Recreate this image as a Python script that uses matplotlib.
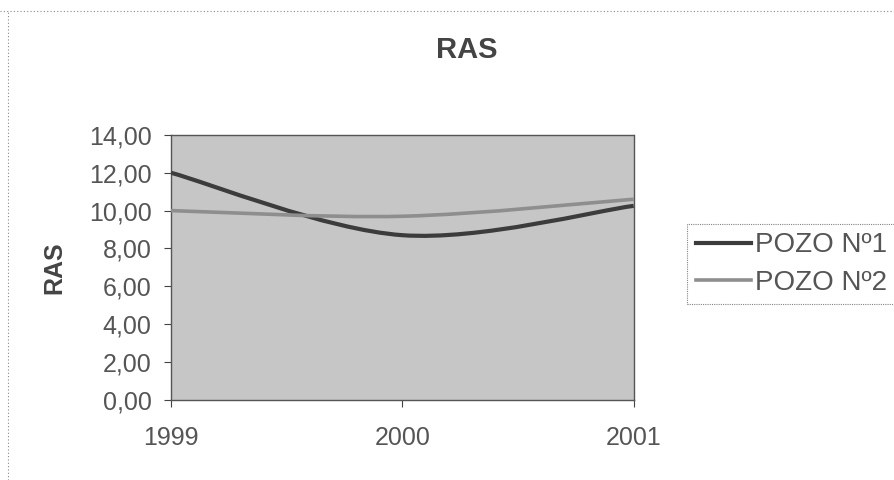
import matplotlib.pyplot as plt
from matplotlib.path import Path
from matplotlib.patches import PathPatch
from matplotlib.lines import Line2D

plt.rcParams['font.family'] = ['Liberation Sans', 'DejaVu Sans']

years = ["1999", "2000", "2001"]
pozo1 = [12.0, 8.7, 10.25]
pozo2 = [10.0, 9.7, 10.6]
series_names = ["POZO Nº1", "POZO Nº2"]
yticks = [0, 2, 4, 6, 8, 10, 12, 14]


def smooth_path(xs, ys):
    # Excel-like smoothed line: cubic bezier through the data points
    pts = list(zip(xs, ys))
    verts = [pts[0]]
    codes = [Path.MOVETO]
    n = len(pts)
    for i in range(n - 1):
        p0 = pts[i - 1] if i > 0 else pts[i]
        p1 = pts[i]
        p2 = pts[i + 1]
        p3 = pts[i + 2] if i + 2 < n else pts[i + 1]
        c1 = (p1[0] + (p2[0] - p0[0]) / 6, p1[1] + (p2[1] - p0[1]) / 6)
        c2 = (p2[0] - (p3[0] - p1[0]) / 6, p2[1] - (p3[1] - p1[1]) / 6)
        verts += [c1, c2, p2]
        codes += [Path.CURVE4] * 3
    return Path(verts, codes)


def main():
    fig = plt.figure(figsize=(8.95, 4.8), dpi=100)
    ax = fig.add_axes([0.191, 0.167, 0.517, 0.552])
    ax.set_facecolor("#c6c6c6")

    xs = list(range(len(years)))
    styles = [("#3c3c3c", 3.0), ("#8e8e8e", 2.6)]
    for vals, (col, lw) in zip([pozo1, pozo2], styles):
        ax.add_patch(PathPatch(smooth_path(xs, vals), facecolor="none",
                               edgecolor=col, lw=lw, zorder=3))

    ax.set_xlim(0, 2)
    ax.set_ylim(0, 14)
    ax.set_xticks(xs)
    ax.set_xticklabels(years)
    ax.set_yticks(yticks)
    ax.set_yticklabels([f"{v:.2f}".replace(".", ",") for v in yticks])
    ax.tick_params(axis="both", labelsize=18, colors="#444444",
                   labelcolor="#555555", length=5, width=0.8)
    ax.tick_params(axis="x", pad=14)
    ax.tick_params(axis="y", pad=9)
    for s in ax.spines.values():
        s.set_color("#555555")
        s.set_linestyle((0, (1, 1)))
        s.set_linewidth(1.0)
    ax.spines["bottom"].set_linestyle("-")

    ax.set_ylabel("RAS", fontsize=18, fontweight="bold", color="#444444",
                  labelpad=16)
    fig.text(0.521, 0.895, "RAS", fontsize=21, fontweight="bold",
             color="#444444", ha="center", va="center")

    handles = [Line2D([], [], color=c, lw=w) for c, w in styles]
    leg = fig.legend(handles, series_names, loc="center left",
                     bbox_to_anchor=(0.768, 0.45), fontsize=20,
                     frameon=True, fancybox=False, handlelength=2.0,
                     handletextpad=0.15, borderpad=0.3, labelspacing=0.4,
                     borderaxespad=0)
    for t in leg.get_texts():
        t.set_color("#555555")
    leg.get_frame().set_edgecolor("#666666")
    leg.get_frame().set_linestyle((0, (1, 1)))
    leg.get_frame().set_linewidth(0.8)

    # faint dotted border of the chart area
    fig.add_artist(Line2D([0.0, 1.0], [0.977, 0.977], color="#888888",
                          lw=0.8, ls=(0, (1, 2))))
    fig.add_artist(Line2D([0.009, 0.009], [0.0, 0.977], color="#888888",
                          lw=0.8, ls=(0, (1, 2))))

    fig.savefig("out.png", dpi=100)
    plt.close(fig)


if __name__ == "__main__":
    main()
